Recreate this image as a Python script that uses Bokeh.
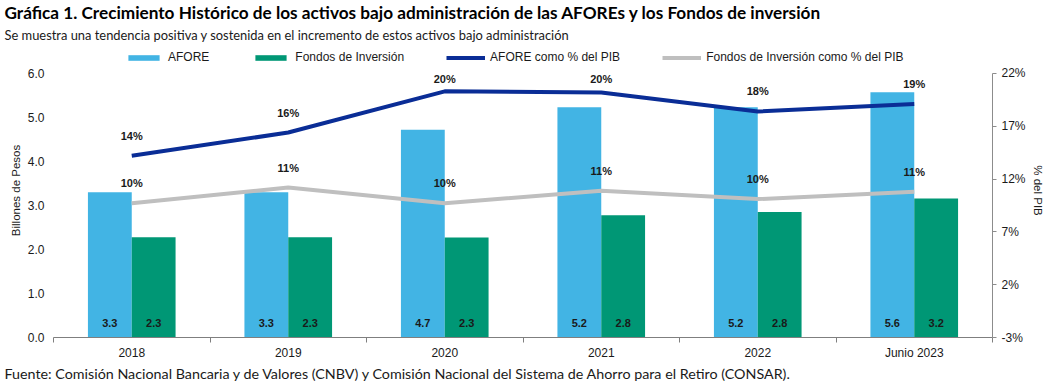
import numpy as np
from bokeh.plotting import figure
from bokeh.models import (Range1d, LinearAxis, FixedTicker, PrintfTickFormatter,
                          Title, Legend, LegendItem, ColumnDataSource)
from bokeh.embed import file_html
from bokeh.resources import INLINE
from bokeh.core.properties import value
from bokeh.transform import dodge

# ---------------- data ----------------
categories = ["2018", "2019", "2020", "2021", "2022", "Junio 2023"]
afore = [3.30, 3.30, 4.72, 5.23, 5.23, 5.57]
fondos = [2.28, 2.28, 2.27, 2.78, 2.85, 3.16]
afore_labels = ["3.3", "3.3", "4.7", "5.2", "5.2", "5.6"]
fondos_labels = ["2.3", "2.3", "2.3", "2.8", "2.8", "3.2"]
afore_pib = [14.2, 16.4, 20.3, 20.2, 18.4, 19.1]
fondos_pib = [9.7, 11.2, 9.7, 10.9, 10.1, 10.8]
afore_pib_labels = ["14%", "16%", "20%", "20%", "18%", "19%"]
fondos_pib_labels = ["10%", "11%", "10%", "11%", "10%", "11%"]
left_ticks = [0, 1, 2, 3, 4, 5, 6]
right_ticks = [-3, 2, 7, 12, 17, 22]

title_text = ("Gráfica 1. Crecimiento Histórico de los activos bajo administración "
              "de las AFOREs y los Fondos de inversión")
subtitle_text = ("Se muestra una tendencia positiva y sostenida en el incremento de estos "
                 "activos bajo administración")
source_text = ("Fuente: Comisión Nacional Bancaria y de Valores (CNBV) y Comisión Nacional "
               "del Sistema de Ahorro para el Retiro (CONSAR).")

# ---------------- styles ----------------
C_AFORE = "#42B4E4"
C_FONDOS = "#009775"
C_AFORE_L = "#0A2D96"
C_FONDOS_L = "#BFBFBF"
AX_FONT = "Liberation Sans"
TXT_FONT = "Lato"
TXT_COL = "#1a1a1a"

Y_LO, Y_HI = 0, 6
PCT_LO, PCT_HI = -3, 22
PLOT_PX = 265      # height of the 0..6 area
LEGEND_PX = 30     # room above 6.0 for the legend
TOP_BORDER = 42
BOTTOM_BORDER = 47
WIDTH = 1046
HEIGHT = TOP_BORDER + LEGEND_PX + PLOT_PX + BOTTOM_BORDER
LEFT_BORDER = 53
y_top = Y_HI + LEGEND_PX / PLOT_PX * (Y_HI - Y_LO)
pct_top = PCT_HI + LEGEND_PX / PLOT_PX * (PCT_HI - PCT_LO)

px_per_pct = PLOT_PX / (PCT_HI - PCT_LO)
lab_off = 20 / px_per_pct
lab_cap = PCT_HI - 6 / px_per_pct
apib_lab_y = [min(v + lab_off, lab_cap) for v in afore_pib]
fpib_lab_y = [min(v + lab_off, lab_cap) for v in fondos_pib]

idx = list(range(len(categories)))
src = ColumnDataSource(dict(
    x=idx, afore=afore, fondos=fondos,
    afore_lab=afore_labels, fondos_lab=fondos_labels,
    apib=afore_pib, fpib=fondos_pib,
    apib_lab=afore_pib_labels, fpib_lab=fondos_pib_labels,
    apib_ly=apib_lab_y, fpib_ly=fpib_lab_y,
    lab_y=[0.34] * len(categories),
))

p = figure(width=WIDTH, height=HEIGHT, output_backend="svg", toolbar_location=None,
           x_range=Range1d(-0.5, len(categories) - 0.5), y_range=Range1d(Y_LO, y_top),
           min_border_left=LEFT_BORDER, min_border_right=50, min_border_top=TOP_BORDER,
           min_border_bottom=BOTTOM_BORDER, x_axis_type=None, y_axis_type=None)
p.outline_line_color = None
p.extra_y_ranges = {"pct": Range1d(PCT_LO, pct_top)}

# bars
bw = 0.28
r_afore = p.vbar(x=dodge("x", -bw / 2), top="afore", width=bw, source=src,
                 fill_color=C_AFORE, line_color=None)
r_fondos = p.vbar(x=dodge("x", bw / 2), top="fondos", width=bw, source=src,
                  fill_color=C_FONDOS, line_color=None)

# lines
r_fl = p.line(x="x", y="fpib", source=src, y_range_name="pct",
              line_color=C_FONDOS_L, line_width=4)
r_al = p.line(x="x", y="apib", source=src, y_range_name="pct",
              line_color=C_AFORE_L, line_width=4)

lab_kw = dict(text_align="center", text_baseline="middle", text_font=value(AX_FONT),
              text_font_size="11px", text_font_style="bold", text_color=TXT_COL)
p.text(x=dodge("x", -bw / 2), y="lab_y", text="afore_lab", source=src, **lab_kw)
p.text(x=dodge("x", bw / 2), y="lab_y", text="fondos_lab", source=src, **lab_kw)
p.text(x="x", y="apib_ly", text="apib_lab", source=src, y_range_name="pct", **lab_kw)
p.text(x="x", y="fpib_ly", text="fpib_lab", source=src, y_range_name="pct", **lab_kw)

# axes
xaxis = LinearAxis(ticker=FixedTicker(ticks=idx,
                                      minor_ticks=[i - 0.5 for i in range(len(categories) + 1)]),
                   major_label_overrides={i: c for i, c in zip(idx, categories)})
xaxis.major_tick_line_color = None
xaxis.major_tick_in = 0
xaxis.major_tick_out = 0
xaxis.minor_tick_in = 0
xaxis.minor_tick_out = 5
xaxis.minor_tick_line_color = "#7f7f7f"
xaxis.axis_line_color = "#7f7f7f"
xaxis.major_label_text_font = AX_FONT
xaxis.major_label_text_font_size = "12px"
xaxis.major_label_text_color = TXT_COL
xaxis.major_label_standoff = 3
p.add_layout(xaxis, "below")

yaxis = LinearAxis(ticker=FixedTicker(ticks=left_ticks), bounds=(Y_LO, Y_HI),
                   formatter=PrintfTickFormatter(format="%.1f"),
                   axis_label="Billones de Pesos")
yaxis.axis_line_color = None
yaxis.major_tick_line_color = None
yaxis.major_tick_in = 0
yaxis.major_tick_out = 0
yaxis.minor_tick_line_color = None
yaxis.major_label_text_font = AX_FONT
yaxis.major_label_text_font_size = "12px"
yaxis.major_label_text_color = TXT_COL
yaxis.major_label_standoff = 9
yaxis.axis_label_text_font = AX_FONT
yaxis.axis_label_text_font_size = "11.5px"
yaxis.axis_label_text_font_style = "normal"
yaxis.axis_label_text_color = TXT_COL
yaxis.axis_label_standoff = 3
p.add_layout(yaxis, "left")

raxis = LinearAxis(y_range_name="pct", ticker=FixedTicker(ticks=right_ticks),
                   bounds=(PCT_LO, PCT_HI),
                   formatter=PrintfTickFormatter(format="%d%%"),
                   axis_label="% del PIB")
raxis.axis_line_color = "#8c8c8c"
raxis.major_tick_line_color = "#8c8c8c"
raxis.major_tick_in = 0
raxis.major_tick_out = 4
raxis.minor_tick_line_color = None
raxis.major_label_text_font = AX_FONT
raxis.major_label_text_font_size = "12px"
raxis.major_label_text_color = TXT_COL
raxis.major_label_standoff = 5
raxis.axis_label_text_font = AX_FONT
raxis.axis_label_text_font_size = "11.5px"
raxis.axis_label_text_font_style = "normal"
raxis.axis_label_text_color = TXT_COL
raxis.axis_label_standoff = 3
p.add_layout(raxis, "right")

p.ygrid.ticker = FixedTicker(ticks=left_ticks)
p.ygrid.grid_line_color = "#d9d9d9"
p.xgrid.visible = False

# legend inside the reserved strip at the top of the plot area
# (tuple location = bottom-left corner, measured from the frame's bottom-left)
legend = Legend(items=[
    LegendItem(label="AFORE", renderers=[r_afore]),
    LegendItem(label="Fondos de Inversión", renderers=[r_fondos]),
    LegendItem(label="AFORE como % del PIB", renderers=[r_al]),
    LegendItem(label="Fondos de Inversión como % del PIB", renderers=[r_fl]),
], orientation="horizontal", location=(71, PLOT_PX + 8),
    glyph_width=39, glyph_height=7, spacing=42, label_standoff=5, padding=0, margin=0,
    border_line_color=None, background_fill_alpha=0, label_text_font=AX_FONT,
    label_text_font_size="12px", label_text_color=TXT_COL, label_height=14)
p.add_layout(legend, "center")

TITLE_X = -(LEFT_BORDER - 4)

# subtitle
p.add_layout(Title(text=subtitle_text, align="left", offset=TITLE_X, standoff=2,
                   text_font=TXT_FONT, text_font_size="12.9px", text_font_style="normal",
                   text_color=TXT_COL), "above")

# main title
p.title = Title(text=title_text, align="left", offset=TITLE_X, standoff=0,
                vertical_align="middle",
                text_font=TXT_FONT, text_font_size="17.2px", text_font_style="bold",
                text_color="#000000")

# source note
p.add_layout(Title(text=source_text, align="left", offset=TITLE_X, standoff=0,
                   text_font=TXT_FONT, text_font_size="14.3px", text_font_style="normal",
                   text_color=TXT_COL), "below")

open("out.html", "w").write(file_html(p, INLINE))
